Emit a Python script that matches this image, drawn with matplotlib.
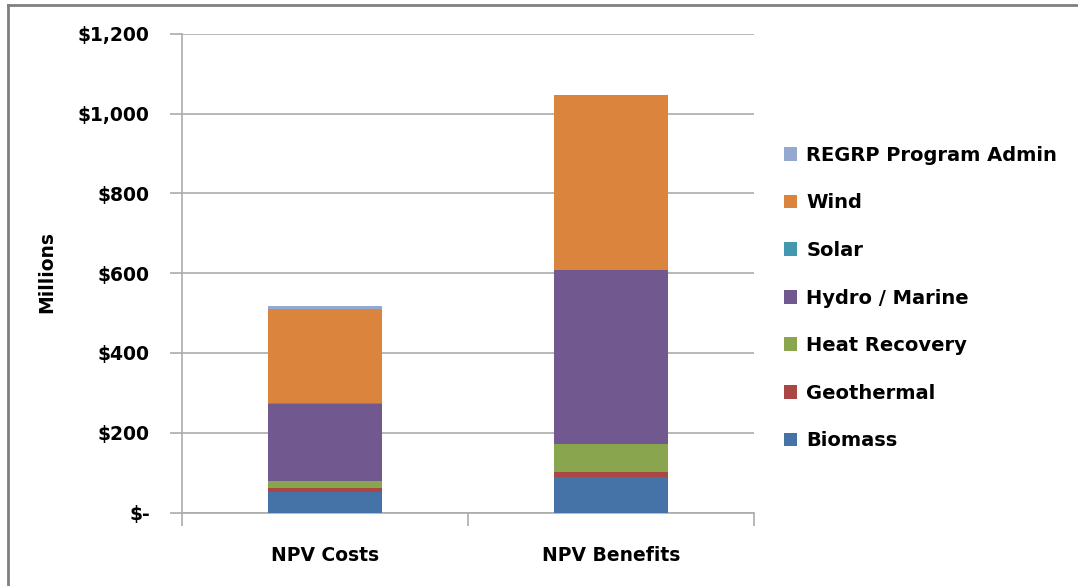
import matplotlib.pyplot as plt
from matplotlib.lines import Line2D
from matplotlib.patches import Patch
from matplotlib.ticker import FuncFormatter

plt.rcParams['font.family'] = ['DejaVu Sans']
plt.rcParams['font.weight'] = 'bold'

categories = ['NPV Costs', 'NPV Benefits']
series = ['Biomass', 'Geothermal', 'Heat Recovery', 'Hydro / Marine',
          'Solar', 'Wind', 'REGRP Program Admin']
biomass = [51, 90]
geothermal = [10, 12]
heat_recovery = [19, 71]
hydro_marine = [193, 435]
solar = [1, 1]
wind = [236, 438]
admin = [7, 0]
values = [biomass, geothermal, heat_recovery, hydro_marine, solar, wind, admin]
colors = ['#4572A7', '#AA4643', '#89A54E', '#71588F', '#4198AF', '#DB843D', '#93A9CF']

fig = plt.figure(figsize=(10.78, 5.86), dpi=100)
W, H = 1078, 586
ax = fig.add_axes([181.7 / W, 1 - 512.5 / H, (754 - 181.7) / W, (512.5 - 34) / H])

x = range(len(categories))
bottom = [0, 0]
for vals, col, name in zip(values, colors, series):
    ax.bar(x, vals, width=0.4, bottom=bottom, color=col, label=name, zorder=3)
    bottom = [b + v for b, v in zip(bottom, vals)]

ax.set_xlim(-0.5, 1.5)
ax.set_ylim(0, 1200)
ax.set_yticks(range(0, 1201, 200))
ax.yaxis.set_major_formatter(FuncFormatter(lambda v, p: '$-' if v == 0 else '${:,.0f}'.format(v)))
ax.grid(axis='y', color='#ABABAB', linewidth=1.2, zorder=0)

for s in ['top', 'right']:
    ax.spines[s].set_visible(False)
for s in ['left', 'bottom']:
    ax.spines[s].set_color('#ABABAB')
    ax.spines[s].set_linewidth(1.2)

ax.tick_params(axis='y', length=9, width=1.2, color='#ABABAB', pad=14, labelsize=13.5)
ax.set_xticks(list(x))
ax.set_xticklabels(categories)
ax.tick_params(axis='x', which='major', length=0, pad=24, labelsize=13.5)
ax.set_xticks([-0.5, 0.5, 1.5], minor=True)
ax.tick_params(axis='x', which='minor', length=9, width=1.2, color='#ABABAB')

fig.text(47 / W, 1 - 272 / H, 'Millions', rotation=90, ha='center', va='center',
         fontsize=13.5, fontweight='bold')

handles = [Patch(facecolor=c, edgecolor='none') for c in colors][::-1]
labels = series[::-1]
fig.legend(handles, labels, loc='upper left', bbox_to_anchor=(776 / W, 1 - 138 / H),
           frameon=False, fontsize=14, handlelength=0.7, handleheight=0.7,
           handletextpad=0.45, labelspacing=1.47, borderaxespad=0)

# outer frame (partly cropped)
fig.add_artist(Line2D([8 / W, 8 / W], [0, 1 - 5 / H], color='#808080', linewidth=2))
fig.add_artist(Line2D([8 / W, 1], [1 - 5 / H, 1 - 5 / H], color='#808080', linewidth=2))

fig.savefig('out.png', dpi=100)
